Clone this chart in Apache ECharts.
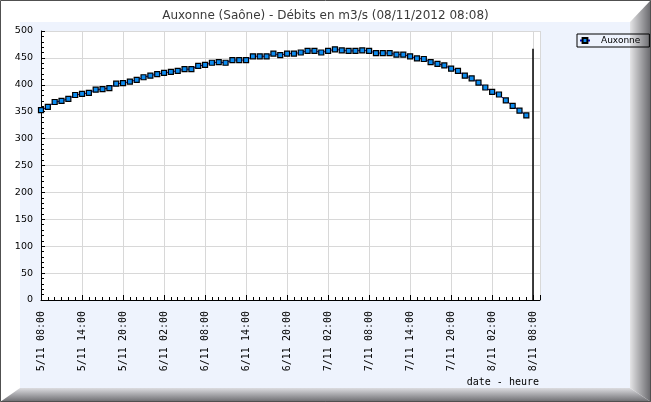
<!DOCTYPE html>
<html>
<head>
<meta charset="utf-8">
<script src="https://cdn.jsdelivr.net/npm/echarts@6/dist/echarts.min.js"></script>
<style>
html,body{margin:0;padding:0;background:#fff;}
#chart{width:651px;height:402px;}
</style>
</head>
<body>
<div id="chart"></div>
<script>
// Débits horaires (m3/s), du 5/11 08:00 au 8/11 07:00
const flowValues = [
  353, 359, 368, 370, 374, 381, 383, 385, 391, 392, 394, 402, 403, 406,
  409, 414, 417, 420, 422, 424, 426, 429, 429, 435, 437, 441, 442, 441,
  446, 446, 446, 453, 453, 453, 458, 455, 458, 458, 460, 463, 463, 460, 463,
  466, 464, 463, 463, 464, 463, 459, 459, 459, 456, 456, 453, 449, 448,
  442, 439, 436, 430, 426, 417, 412, 404, 395, 387, 382, 371, 361, 352, 343
];
// hours elapsed since 5/11 08:00 for each reading
const hoursFromStart = flowValues.map((_, i) => i);
const xTickLabels = [
  '5/11 08:00', '5/11 14:00', '5/11 20:00', '6/11 02:00', '6/11 08:00',
  '6/11 14:00', '6/11 20:00', '7/11 02:00', '7/11 08:00', '7/11 14:00',
  '7/11 20:00', '8/11 02:00', '8/11 08:00'
];
const yTickLabels = ['0','50','100','150','200','250','300','350','400','450','500'];
const seriesName = 'Auxonne';
const titleText = 'Auxonne (Saône) - Débits en m3/s (08/11/2012 08:08)';
const xAxisTitle = 'date - heure';

const chart = echarts.init(document.getElementById('chart'), null, {renderer: 'canvas'});

const W = 651, H = 402;
const option = {
  animation: false,
  backgroundColor: '#ffffff',
  title: {
    text: titleText,
    left: 'center',
    top: 5,
    textStyle: {fontFamily: 'DejaVu Sans', fontSize: 12, fontWeight: 'normal', color: '#3a3a3a'}
  },
  legend: {
    data: [seriesName],
    left: 577,
    top: 34,
    orient: 'vertical',
    padding: [2, 9, 2, 2],
    borderColor: '#000',
    borderWidth: 1,
    itemWidth: 10,
    itemHeight: 6,
    textStyle: {fontFamily: 'DejaVu Sans', fontSize: 9, color: '#000', padding: [0, 0, 0, 6]}
  },
  graphic: [
    {type: 'rect', silent: true, z: -10, shape: {x: 20, y: 22, width: 610, height: 366}, style: {fill: '#eef3fd'}},
    {type: 'polygon', silent: true, z: -9, shape: {points: [[630, 22], [651, 0], [651, 402], [630, 388]]},
      style: {fill: new echarts.graphic.LinearGradient(0, 0, 1, 0, [{offset: 0, color: '#e4e4e6'}, {offset: 1, color: '#66666a'}])}},
    {type: 'polygon', silent: true, z: -9, shape: {points: [[20, 388], [630, 388], [651, 402], [0, 402]]},
      style: {fill: new echarts.graphic.LinearGradient(0, 0, 0, 1, [{offset: 0, color: '#dcdce0'}, {offset: 1, color: '#6a6a6e'}])}},
    {type: 'rect', silent: true, z: 100, shape: {x: 0.5, y: 0.5, width: W - 1, height: H - 1}, style: {fill: 'none', stroke: '#505050', lineWidth: 1}},
    {type: 'text', silent: true, z: 50, style: {text: xAxisTitle, x: 539, y: 382, align: 'right', verticalAlign: 'middle',
      font: '10px "DejaVu Sans Mono"', fill: '#000'}}
  ],
  grid: {
    left: 41, top: 31, width: 499, height: 269,
    show: true, backgroundColor: '#ffffff', borderWidth: 0,
    containLabel: false, outerBoundsMode: 'none'
  },
  xAxis: {
    type: 'value',
    min: 0, max: 73, interval: 6,
    axisLine: {show: true, lineStyle: {color: '#000', width: 1}},
    axisTick: {show: true, inside: true, length: 5, lineStyle: {color: '#000'}},
    minorTick: {show: true, splitNumber: 6, length: 3, lineStyle: {color: '#000'}},
    splitLine: {show: true, lineStyle: {color: '#d8d8d8', width: 1}},
    axisLabel: {
      rotate: 90, margin: 11, showMaxLabel: false,
      fontFamily: 'DejaVu Sans Mono', fontSize: 10, color: '#000',
      formatter: v => (v % 6 === 0 && xTickLabels[v / 6] !== undefined) ? xTickLabels[v / 6] : ''
    }
  },
  yAxis: {
    type: 'value',
    min: 0, max: 500, interval: 50,
    axisLine: {show: true, lineStyle: {color: '#000', width: 1}},
    axisTick: {show: true, inside: true, length: 4, lineStyle: {color: '#000'}},
    minorTick: {show: true, splitNumber: 5, length: 3, lineStyle: {color: '#000'}},
    splitLine: {show: true, lineStyle: {color: '#d8d8d8', width: 1}},
    axisLabel: {
      margin: 8, fontFamily: 'DejaVu Sans', fontSize: 9.5, color: '#000',
      formatter: v => yTickLabels[v / 50] !== undefined ? yTickLabels[v / 50] : ''
    }
  },
  series: [{
    name: seriesName,
    type: 'line',
    data: hoursFromStart.map((h, i) => [h, flowValues[i]]),
    symbol: 'rect',
    symbolSize: 5,
    showAllSymbol: true,
    lineStyle: {color: '#0000d0', width: 1},
    itemStyle: {color: '#0c8cf0', borderColor: '#000', borderWidth: 1.2},
    markLine: {
      silent: true, symbol: 'none', label: {show: false},
      lineStyle: {color: '#000', width: 1.5, type: 'solid'},
      data: [[{coord: [72, 0]}, {coord: [72, 467]}]]
    }
  }]
};
chart.setOption(option);
</script>
</body>
</html>
